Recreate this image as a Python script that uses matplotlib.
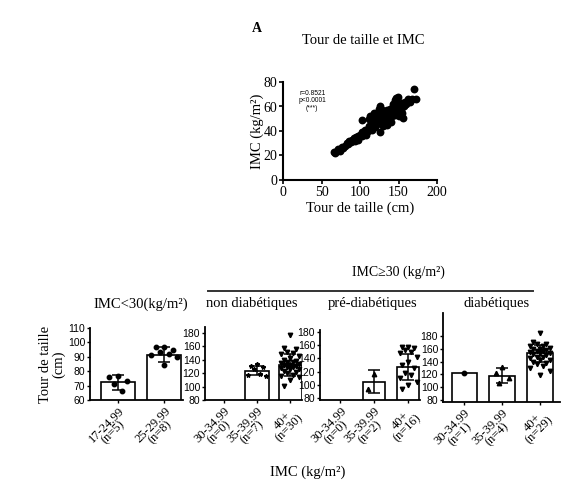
import numpy as np
import matplotlib
matplotlib.use("Agg")
import matplotlib.pyplot as plt
from matplotlib.lines import Line2D

# ---------- data ----------
# scatter : tour de taille (cm) vs IMC (kg/m2)
tt = [66, 68, 70, 72, 74, 76, 78, 80, 83, 85, 86, 88, 90, 92, 94, 95, 97, 98, 100, 102,
      103, 105, 107, 108, 110, 111, 112, 114, 115, 116, 117, 118, 119, 120, 121, 122, 123, 124, 125, 126,
      127, 128, 129, 130, 131, 132, 133, 134, 135, 136, 137, 138, 139, 140, 141, 142, 143, 144, 145, 146,
      147, 148, 149, 150, 152, 153, 155, 157, 158, 160, 162, 165, 168, 170, 173, 102, 149, 118, 125, 135,
      140, 130, 112, 150, 145, 155, 126, 113, 126, 156, 147, 138, 133, 128, 143]
imc = [23, 22, 24, 25, 24, 27, 26, 28, 30, 29, 32, 31, 33, 34, 32, 35, 36, 33, 37, 36,
       39, 38, 41, 37, 42, 40, 44, 43, 41, 46, 45, 47, 43, 48, 50, 46, 52, 49, 47, 51,
       54, 50, 48, 53, 56, 52, 50, 55, 57, 53, 49, 56, 58, 54, 52, 59, 57, 55, 60, 53,
       58, 62, 56, 59, 61, 57, 63, 60, 64, 62, 66, 64, 66, 74, 66, 49, 68, 55, 58, 45,
       47, 44, 50, 52, 65, 55, 60, 52, 39, 51, 67, 51, 47, 57, 62]

# bar panels : tour de taille (cm) by IMC class
p1_labels = ["17-24.99\n(n=5)", "25-29.99\n(n=8)"]
p1_means = [72.3, 91.3]
p1_sds = [5.4, 5.2]
p1_pts = [[77, 76, 73, 71, 66],
          [97, 96.5, 95, 93, 92, 91, 90, 84]]

p2_labels = ["30-34.99\n(n=0)", "35-39.99\n(n=7)", "40+\n(n=30)"]
p2_means = [np.nan, 124, 132]
p2_sds = [np.nan, 6.5, 16]
p2_pts = [[],
          [134, 131, 129, 126, 119, 117, 116],
          [177, 158, 156, 152, 150, 148, 145, 142, 140, 138, 137, 136, 135, 134, 133,
           132, 131, 130, 129, 128, 127, 126, 124, 122, 120, 118, 116, 114, 110, 101]]

p3_labels = ["30-34.99\n(n=0)", "35-39.99\n(n=2)", "40+\n(n=16)"]
p3_means = [np.nan, 105, 127]
p3_sds = [np.nan, 17, 19]
p3_pts = [[],
          [116, 94],
          [158, 157, 155, 153, 150, 148, 142, 135, 130, 125, 118, 115, 110, 105, 100, 93]]

p4_labels = ["30-34.99\n(n=1)", "35-39.99\n(n=4)", "40+\n(n=29)"]
p4_means = [122, 118, 153]
p4_sds = [0, 12, 13]
p4_pts = [[122],
          [131, 122, 115, 106],
          [184, 170, 168, 167, 165, 164, 162, 160, 159, 158, 157, 156, 155, 154, 153,
           152, 150, 148, 147, 145, 143, 142, 140, 138, 136, 133, 130, 125, 119]]

# ---------- figure ----------
W, H = 569, 490
fig = plt.figure(figsize=(W / 100, H / 100), dpi=100)
SERIF = "Liberation Serif"
SANS = "Liberation Sans"


def px_axes(l, t, r, b):
    return fig.add_axes([l / W, 1 - b / H, (r - l) / W, (b - t) / H])


def fig_text(x, y, s, **kw):
    fig.text(x / W, 1 - y / H, s, **kw)


# ---- panel A : scatter ----
ax = px_axes(283, 82, 437, 180)
ax.scatter(tt, imc, s=32, color="black", linewidths=0, zorder=3)
ax.set_xlim(0, 200)
ax.set_ylim(0, 80)
ax.set_xticks([0, 50, 100, 150, 200])
ax.set_yticks([0, 20, 40, 60, 80])
for sp in ["top", "right"]:
    ax.spines[sp].set_visible(False)
for sp in ["left", "bottom"]:
    ax.spines[sp].set_linewidth(1.5)
ax.tick_params(width=1.2, length=3, labelsize=10, pad=1)
for lab in ax.get_xticklabels() + ax.get_yticklabels():
    lab.set_family(SERIF)
ax.set_xlabel("Tour de taille (cm)", family=SERIF, fontsize=10.5, labelpad=2)
ax.set_ylabel("IMC (kg/m\u00b2)", family=SERIF, fontsize=10.5, labelpad=0)
ax.text(0.19, 0.92, "r=0.8521\np<0.0001\n(***)", transform=ax.transAxes, family=SANS,
        fontsize=4.8, ha="center", va="top", linespacing=1.1)

fig_text(257, 28, "A", family=SERIF, fontsize=10, fontweight="bold", ha="center", va="center")
fig_text(363, 41, "Tour de taille et IMC", family=SERIF, fontsize=10.5, ha="center", va="center")


# ---- bar panels ----
def bar_panel(box, labels, means, sds, pts, ylim, yticks, xlim, width, markers):
    a = px_axes(*box)
    x = np.arange(len(labels))
    m = np.array(means, dtype=float)
    ok = ~np.isnan(m)
    a.bar(x[ok], m[ok], width=width, color="white", edgecolor="black", linewidth=1.2, zorder=1)
    for i in x[ok]:
        if sds[i] > 0:
            a.errorbar(i, m[i], yerr=sds[i], color="black", capsize=4, elinewidth=1.1,
                       capthick=1.1, zorder=4)
    pattern = [0, -0.18, 0.18, -0.09, 0.09, -0.27, 0.27]
    for i, grp in enumerate(pts):
        for k, v in enumerate(grp):
            off = pattern[k % len(pattern)] * (width / 0.7)
            a.plot(i + off, v, marker=markers[i], color="black", ms=3.2, zorder=3, clip_on=False)
    a.set_xlim(*xlim)
    a.set_ylim(*ylim)
    a.set_yticks(yticks)
    a.set_xticks(x)
    a.set_xticklabels(labels, rotation=45, ha="right", va="top", rotation_mode="anchor",
                      family=SERIF, fontsize=9, linespacing=0.8, multialignment="center")
    for sp in ["top", "right"]:
        a.spines[sp].set_visible(False)
    for sp in ["left", "bottom"]:
        a.spines[sp].set_linewidth(1.3)
    a.tick_params(axis="y", width=1, length=2.5, labelsize=7.5, pad=1)
    a.tick_params(axis="x", width=1, length=2.5, pad=1)
    for lab in a.get_yticklabels():
        lab.set_family(SANS)
    return a


a1 = bar_panel((90, 328, 183, 400), p1_labels, p1_means, p1_sds, p1_pts,
               (60, 110), range(60, 111, 10), (-0.6, 1.4), 0.73, ["o", "o"])
a1.set_ylabel("Tour de taille\n(cm)", family=SERIF, fontsize=10.5, labelpad=2, linespacing=1.0)
bar_panel((205, 327, 302, 400), p2_labels, p2_means, p2_sds, p2_pts,
          (80, 189), range(80, 181, 20), (-0.56, 2.35), 0.7, ["o", "*", "v"])
bar_panel((320, 330, 420, 400), p3_labels, p3_means, p3_sds, p3_pts,
          (77, 183), range(80, 181, 20), (-0.6, 2.35), 0.66, ["o", "^", "v"])
bar_panel((443, 313, 560, 402), p4_labels, p4_means, p4_sds, p4_pts,
          (77, 216), range(80, 181, 20), (-0.56, 2.53), 0.67, ["o", "^", "v"])

# ---- group headers ----
fig_text(398, 272, "IMC\u226530 (kg/m\u00b2)", family=SERIF, fontsize=10, ha="center", va="center")
fig.add_artist(Line2D([208 / W, 533 / W], [1 - 291 / H, 1 - 291 / H], color="#333333", lw=1.4))
fig_text(141, 304, "IMC<30(kg/m\u00b2)", family=SERIF, fontsize=10.5, ha="center", va="center")
fig_text(252, 304, "non diab\u00e9tiques", family=SERIF, fontsize=10.5, ha="center", va="center")
fig_text(373, 304, "pr\u00e9-diab\u00e9tiques", family=SERIF, fontsize=10.5, ha="center", va="center")
fig_text(497, 304, "diab\u00e9tiques", family=SERIF, fontsize=10.5, ha="center", va="center")
fig_text(308, 472, "IMC (kg/m\u00b2)", family=SERIF, fontsize=10.5, ha="center", va="center")

fig.savefig("out.png", dpi=100, facecolor="white")
